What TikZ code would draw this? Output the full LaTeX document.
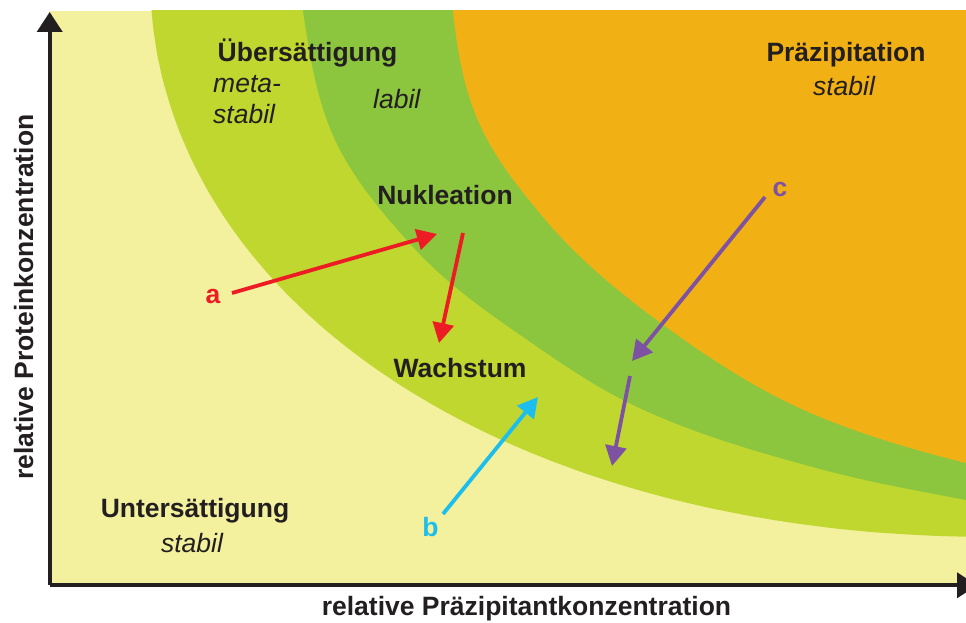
\documentclass[tikz,border=0pt]{standalone}
\usepackage{fontspec}
\setmainfont{Liberation Sans}
\usetikzlibrary{arrows.meta}
\definecolor{paleyellow}{RGB}{243,241,157}
\definecolor{lightgreen}{RGB}{192,215,48}
\definecolor{midgreen}{RGB}{140,198,63}
\definecolor{orangefill}{RGB}{241,176,19}
\definecolor{arrowred}{RGB}{237,28,36}
\definecolor{arrowcyan}{RGB}{28,190,238}
\definecolor{arrowpurple}{RGB}{125,82,163}
\definecolor{textdark}{RGB}{35,31,32}
\begin{document}
\begin{tikzpicture}[x=1pt,y=-1pt,
  boldlabel/.style={font=\fontsize{26.5}{30}\selectfont\bfseries, text=textdark, inner sep=0pt, anchor=base},
  itlabel/.style={font=\fontsize{26.5}{30}\selectfont\itshape, text=textdark, inner sep=0pt, anchor=base west},
  itcenter/.style={font=\fontsize{26.5}{30}\selectfont\itshape, text=textdark, inner sep=0pt, anchor=base},
  letterlabel/.style={font=\fontsize{26.5}{30}\selectfont\bfseries, inner sep=0pt, anchor=base},
  axisline/.style={line width=4pt, draw=textdark, -{Triangle[length=20pt,width=25pt]}},
  flow/.style={line width=3.8pt, -{Triangle[length=20pt,width=21pt]}}
]
\clip (0,0) rectangle (966,623);
\fill[white] (0,0) rectangle (966,623);
% regions
\begin{scope}
\clip (50,11) rectangle (966,585);
\fill[paleyellow] (50,11) rectangle (966,585);
\fill[lightgreen] plot[domain=0.2:89.8, samples=120]
  ({1000-850*pow(cos(\x),2/2.1)}, {-30+567*pow(sin(\x),2/2.1)})
  -- (1000,-30) -- cycle;
\fill[midgreen] (303,0) -- (303,11)
  .. controls (310.1,58.4) and (317.7,107.6) .. (340,150)
  .. controls (358.9,185.8) and (385.8,217) .. (413,247)
  .. controls (442.1,279) and (477.4,305.4) .. (513,330)
  .. controls (549.4,355.1) and (585.5,381.2) .. (625,401)
  .. controls (686.5,431.8) and (753.6,451.1) .. (820,469)
  .. controls (868.1,482) and (917.1,490.7) .. (966,500)
  -- (1000,506) -- (1000,0) -- cycle;
\fill[orangefill] (453,0) -- (453,11)
  .. controls (456.9,49.9) and (463.8,89.4) .. (480,125)
  .. controls (495.4,158.9) and (519.2,188.4) .. (543,217)
  .. controls (574,254.2) and (611.3,286) .. (650,315)
  .. controls (702.9,354.7) and (758.8,391.9) .. (820,417)
  .. controls (867.2,436.3) and (916.5,450.6) .. (966,463)
  -- (1000,471) -- (1000,0) -- cycle;
\end{scope}
% axes
\coordinate (origin) at (49.7,585.3);
\coordinate (ytip) at (49.7,12);
\coordinate (xtip) at (977,585.3);
\draw[axisline] (origin) -- (ytip);
\draw[axisline] (origin) -- (xtip);
% labels
\node[boldlabel] (uebers) at (307.5,62) {Übersättigung};
\node[itlabel] (meta) at (213,93) {meta-};
\node[itlabel] (metastabil) at (213,124) {stabil};
\node[itlabel] (labil) at (373,109) {labil};
\node[boldlabel] (praez) at (846,62) {Präzipitation};
\node[itcenter] (praezstabil) at (844,96) {stabil};
\node[boldlabel] (nukl) at (445,204) {Nukleation};
\node[boldlabel] (wachs) at (460,377) {Wachstum};
\node[boldlabel] (unters) at (195,517) {Untersättigung};
\node[itcenter] (untersstabil) at (192,552) {stabil};
\node[boldlabel] (xlabel) at (526.5,615) {relative Präzipitantkonzentration};
\node[boldlabel, rotate=90] (ylabel) at (33,297) {relative Proteinkonzentration};
\node[letterlabel, text=arrowred] (la) at (213,303) {a};
\node[letterlabel, text=arrowcyan] (lb) at (430.5,536) {b};
\node[letterlabel, text=arrowpurple] (lc) at (780,196) {c};
% arrow end points
\coordinate (a1s) at (232,293);
\coordinate (a1e) at (437,234);
\coordinate (a2s) at (463,233);
\coordinate (a2e) at (439,343);
\coordinate (bs) at (443,514);
\coordinate (be) at (538,397);
\coordinate (c1s) at (765,197);
\coordinate (c1e) at (632,361);
\coordinate (c2s) at (630,376);
\coordinate (c2e) at (612,466);
\draw[flow, arrowred] (a1s) -- (a1e);
\draw[flow, arrowred] (a2s) -- (a2e);
\draw[flow, arrowcyan] (bs) -- (be);
\draw[flow, arrowpurple] (c1s) -- (c1e);
\draw[flow, arrowpurple] (c2s) -- (c2e);
\end{tikzpicture}
\end{document}
